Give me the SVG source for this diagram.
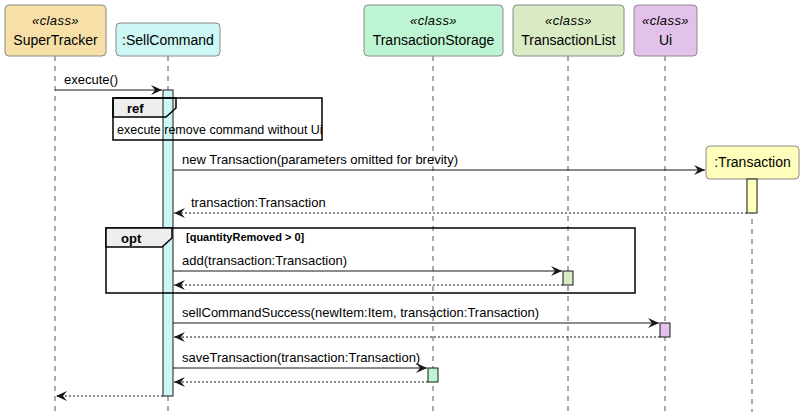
<svg xmlns="http://www.w3.org/2000/svg" width="804" height="420" viewBox="0 0 804 420">
<defs>
<style>
text{font-family:"Liberation Sans",Arial,sans-serif;fill:#000}
.name{font-size:14px;text-anchor:middle}
.st{font-size:13px;font-style:italic;text-anchor:middle;letter-spacing:0.4px}
.msg{font-size:13px}
.box{stroke:#8a8a8a;stroke-width:1}
.life{stroke:#555;stroke-width:1;stroke-dasharray:5,5;fill:none}
.act{stroke:#181818;stroke-width:1}
.call{stroke:#181818;stroke-width:1;fill:none;marker-end:url(#ah)}
.ret{stroke:#181818;stroke-width:1;stroke-dasharray:2,2;fill:none;marker-end:url(#ah)}
.frame{fill:none;stroke:#000;stroke-width:1.5}
.tab{fill:none;stroke:#000;stroke-width:1.5}
.fl{font-size:13px;font-weight:bold}
</style>
<marker id="ah" viewBox="0 0 11 10" refX="11" refY="5" markerWidth="11" markerHeight="10" orient="auto" markerUnits="userSpaceOnUse"><path d="M0,0 L11,5 L0,10 L4,5 Z" fill="#181818"/></marker>
</defs>
<rect width="804" height="420" fill="#fff"/>
<g id="lifelines">
<line class="life" x1="55" y1="56" x2="55" y2="412"/>
<line class="life" x1="168" y1="56" x2="168" y2="412"/>
<line class="life" x1="433" y1="56" x2="433" y2="412"/>
<line class="life" x1="568" y1="56" x2="568" y2="412"/>
<line class="life" x1="665" y1="56" x2="665" y2="412"/>
<line class="life" x1="752" y1="179" x2="752" y2="412"/>
</g>
<g id="SuperTracker">
<rect class="box" x="5" y="5" width="101" height="51" rx="4" fill="#F6E0A7"/>
<text class="st" x="55.5" y="25">«class»</text>
<text class="name" x="55.5" y="45">SuperTracker</text>
</g>
<g id="SellCommand">
<rect class="box" x="116" y="23" width="104" height="33" rx="4" fill="#CDF7F5"/>
<text class="name" x="168" y="45">:SellCommand</text>
</g>
<g id="TransactionStorage">
<rect class="box" x="364" y="5" width="139" height="51" rx="4" fill="#BDF5D2"/>
<text class="st" x="433.5" y="25">«class»</text>
<text class="name" x="433.5" y="45">TransactionStorage</text>
</g>
<g id="TransactionList">
<rect class="box" x="513" y="5" width="111" height="51" rx="4" fill="#D9EAC5"/>
<text class="st" x="568.5" y="25">«class»</text>
<text class="name" x="568.5" y="45">TransactionList</text>
</g>
<g id="Ui">
<rect class="box" x="634" y="5" width="63" height="51" rx="4" fill="#E2C2EA"/>
<text class="st" x="665.5" y="25">«class»</text>
<text class="name" x="665.5" y="45">Ui</text>
</g>
<g id="Transaction">
<rect class="box" x="706" y="146" width="93" height="33" rx="4" fill="#FFFFBB"/>
<text class="name" x="752.5" y="167">:Transaction</text>
</g>
<g id="ref-frame-bg">
<rect x="113" y="98" width="209" height="42" fill="#fff"/>
<path d="M113,98 H176 V108 L166,117 H113 Z" fill="#EEEEEE"/>
</g>
<g id="activations">
<rect class="act" x="163" y="90" width="10" height="306" fill="#CDF7F5"/>
<rect class="act" x="747" y="179" width="10" height="34" fill="#FFFFBB"/>
<rect class="act" x="563" y="271" width="10" height="14" fill="#D9EAC5"/>
<rect class="act" x="660" y="323" width="10" height="14" fill="#E2C2EA"/>
<rect class="act" x="428" y="368" width="10" height="14" fill="#BDF5D2"/>
</g>
<g id="ref-frame">
<rect class="frame" x="113" y="98" width="209" height="42"/>
<path class="tab" d="M113,98 H176 V108 L166,117 H113 Z"/>
<text class="fl" x="127" y="113">ref</text>
<text class="msg" x="117" y="134" style="font-size:12.5px">execute remove command without Ui</text>
</g>
<g id="opt-frame">
<rect class="frame" x="106" y="228" width="529" height="65"/>
<path d="M106,228 H172 V238 L162,247 H106 Z" fill="#EEEEEE" stroke="#000" stroke-width="1.5"/>
<text class="fl" x="121" y="243">opt</text>
<text x="186" y="241" style="font-size:11px;font-weight:bold">[quantityRemoved &gt; 0]</text>
</g>
<g id="connectors">
<line class="call" x1="55" y1="90" x2="162" y2="90"/>
<text class="msg" x="64" y="84">execute()</text>
<line class="call" x1="173" y1="170" x2="705" y2="170"/>
<text class="msg" x="182" y="164">new Transaction(parameters omitted for brevity)</text>
<line class="ret" x1="747" y1="213" x2="174" y2="213"/>
<text class="msg" x="191" y="207">transaction:Transaction</text>
<line class="call" x1="173" y1="271" x2="562" y2="271"/>
<text class="msg" x="182" y="265">add(transaction:Transaction)</text>
<line class="ret" x1="563" y1="285" x2="174" y2="285"/>
<line class="call" x1="173" y1="323" x2="659" y2="323"/>
<text class="msg" x="182" y="317">sellCommandSuccess(newItem:Item, transaction:Transaction)</text>
<line class="ret" x1="660" y1="337" x2="174" y2="337"/>
<line class="call" x1="173" y1="368" x2="427" y2="368"/>
<text class="msg" x="182" y="362">saveTransaction(transaction:Transaction)</text>
<line class="ret" x1="428" y1="382" x2="174" y2="382"/>
<line class="ret" x1="163" y1="396" x2="56" y2="396"/>
</g>
</svg>
